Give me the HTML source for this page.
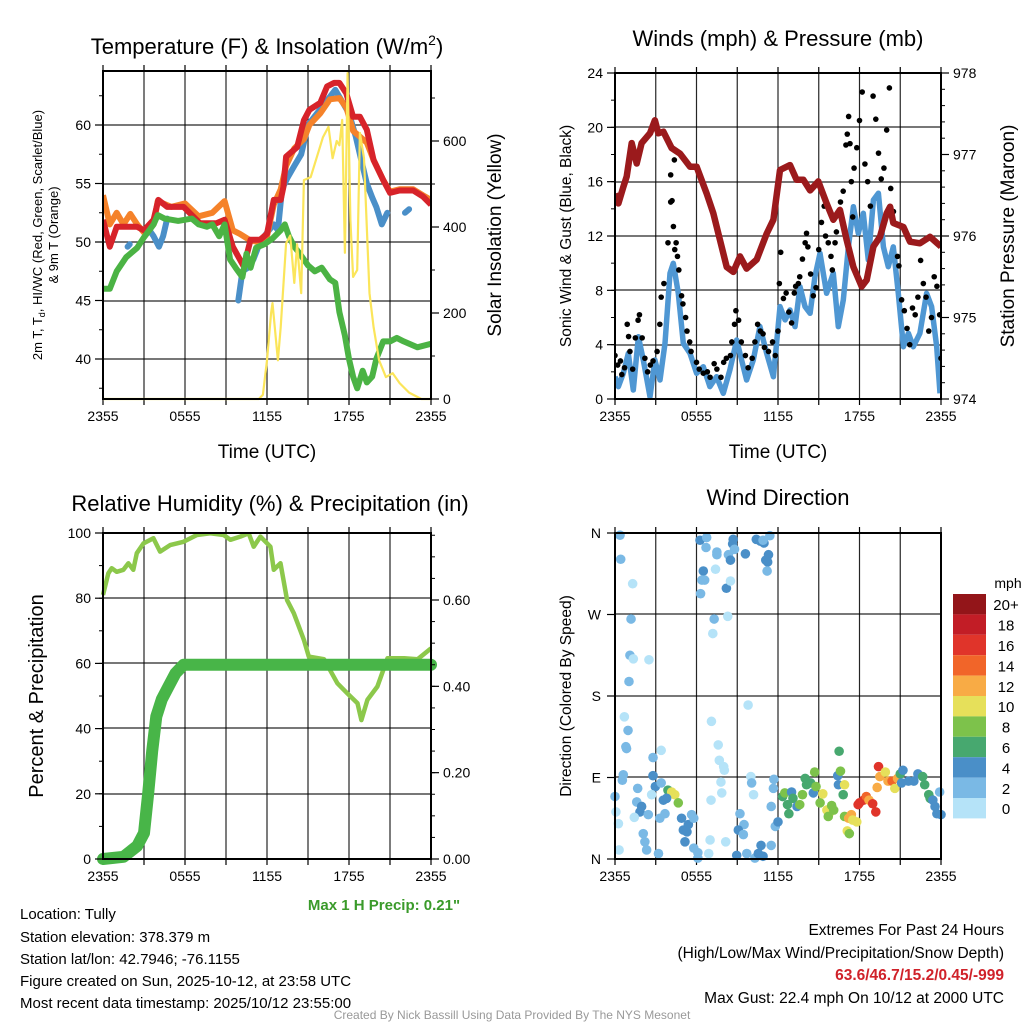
<!DOCTYPE html>
<html><head><meta charset="utf-8">
<style>
html,body{margin:0;padding:0;background:#fff;}
svg{display:block;font-family:"Liberation Sans",Arial,sans-serif;}
</style></head>
<body>
<svg id="c" width="1024" height="1024" viewBox="0 0 1024 1024" xmlns="http://www.w3.org/2000/svg">
<g id="static">
<text x="267" y="54" font-size="22" text-anchor="middle">Temperature (F) &amp; Insolation (W/m<tspan dy="-9" font-size="14">2</tspan><tspan dy="9">)</tspan></text>
<text x="778" y="46" font-size="22" text-anchor="middle">Winds (mph) &amp; Pressure (mb)</text>
<text x="270" y="511" font-size="22" text-anchor="middle">Relative Humidity (%) &amp; Precipitation (in)</text>
<text x="778" y="505" font-size="22" text-anchor="middle">Wind Direction</text>
<text x="267" y="458" font-size="19" text-anchor="middle">Time (UTC)</text>
<text x="778" y="458" font-size="19" text-anchor="middle">Time (UTC)</text>
<text transform="translate(42,235) rotate(-90)" font-size="13" text-anchor="middle">2m T, T<tspan font-size="9" dy="3">d</tspan><tspan dy="-3">, HI/WC (Red, Green, Scarlet/Blue)</tspan></text>
<text transform="translate(58,235) rotate(-90)" font-size="13" text-anchor="middle">&amp; 9m T (Orange)</text>
<text transform="translate(501,235) rotate(-90)" font-size="19" text-anchor="middle">Solar Insolation (Yellow)</text>
<text transform="translate(571,236) rotate(-90)" font-size="15.5" text-anchor="middle">Sonic Wind &amp; Gust (Blue, Black)</text>
<text transform="translate(1014,236) rotate(-90)" font-size="19" text-anchor="middle">Station Pressure (Maroon)</text>
<text transform="translate(43,696) rotate(-90)" font-size="20" text-anchor="middle">Percent &amp; Precipitation</text>
<text transform="translate(571,696) rotate(-90)" font-size="15.5" text-anchor="middle">Direction (Colored By Speed)</text>
<text x="384" y="910" font-size="15" font-weight="bold" fill="#3a9a2a" text-anchor="middle">Max 1 H Precip: 0.21"</text>
<g font-size="15">
<text x="20" y="919">Location: Tully</text>
<text x="20" y="942">Station elevation: 378.379 m</text>
<text x="20" y="964">Station lat/lon: 42.7946; -76.1155</text>
<text x="20" y="986">Figure created on Sun, 2025-10-12, at 23:58 UTC</text>
<text x="20" y="1008">Most recent data timestamp: 2025/10/12 23:55:00</text>
</g>
<g font-size="15.5" text-anchor="end">
<text x="1004" y="935">Extremes For Past 24 Hours</text>
<text x="1004" y="958">(High/Low/Max Wind/Precipitation/Snow Depth)</text>
<text x="1004" y="980" fill="#d0222a" font-weight="bold">63.6/46.7/15.2/0.45/-999</text>
<text x="1004" y="1003">Max Gust: 22.4 mph On 10/12 at 2000 UTC</text>
</g>
<text x="512" y="1019" font-size="12" fill="#999" text-anchor="middle">Created By Nick Bassill Using Data Provided By The NYS Mesonet</text>
</g>
</svg>
<script>
// ---------- Panel 1 data (hours since 2355) ----------
const redH=[0,0.5,1,1.7,2.5,3,3.7,4.05,4.7,5.9,7.1,8.3,8.9,9.5,10.3,10.8,11.5,12,12.5,13,13.2,13.4,14.2,14.7,15.1,15.9,16.4,16.9,17.3,17.8,18.3,18.8,19.3,19.8,20.5,21,21.7,22.7,23.4,24];
const redT=[51.9,49.6,51.3,51.3,51.3,51.0,51.9,53.6,53.0,53.0,51.6,51.6,51.9,49.6,47.9,50.2,50.2,50.7,53.6,53.6,54.7,57.3,58.1,60.4,61.3,61.9,63.3,63.6,63.6,62.7,60.7,60.7,59.6,57.0,55.3,54.2,54.4,54.4,53.9,53.2];
const orgH=[0,0.5,1,1.5,2,2.5,3,3.7,4,5,6,7,8,8.9,9.5,10,10.7,11.3,12,12.5,13,13.4,14,14.7,15.1,15.9,16.6,17.3,17.8,18.3,18.8,19.3,19.8,20.5,21,21.7,22.7,23.4,24];
const orgT=[54,51.5,52.5,51.5,52.4,51.5,50.8,51.5,53.5,53,53.3,52.2,52.5,53.5,51,50.7,50.2,50.0,50.5,53.2,54.5,56.5,58,58.8,60,61,62.2,62.3,61.5,59.5,59,58.5,57,55.3,54.3,54.5,54.5,54,53.6];
const bluH=[1.8,1.95,null,3.4,3.7,4.1,4.4,4.7,null,9.9,10.2,10.6,11,11.5,12,12.5,12.8,13.1,13.5,14,14.5,15,16,17,18,18.5,18.8,19.3,19.7,20,20.4,20.8,null,22.1,22.4];
const bluT=[49.6,49.8,null,51,50.5,49.6,50.5,52,null,45,47.5,47.8,48.5,50,50.8,51.5,51,54.5,55.5,56.5,57.5,60,61.5,63,61,59,57.5,55,53.8,53,51.5,52.5,null,52.5,52.8];
const grnH=[0,0.5,1,1.7,2.5,3,3.7,4,4.5,5.5,6.5,7,7.6,8,8.5,8.9,9.3,9.7,10.2,10.5,10.8,11.2,11.8,12.4,13,13.3,13.6,14,14.4,15,15.5,16,16.6,17,17.3,17.7,18,18.3,18.6,19,19.3,19.7,20,20.5,21,21.5,22,23,24];
const grnT=[46,46,47.5,48.7,49.5,50.4,51.5,52.3,52,51.8,52,51.5,51.3,51.5,50.5,51.5,48.5,47.8,47,49,47.8,49.5,49.8,50.3,51,51.5,50.5,49.6,49,48,47.5,47.8,46.8,46.5,44,42,40,38.5,37.5,39,38,38.5,40,41.5,41.5,41.8,41.5,41,41.3];
const solH=[0,11.4,11.7,12,12.3,12.4,12.8,13,13.4,13.7,14,14.2,14.5,14.7,15.2,16.1,16.5,16.8,17.1,17.3,17.5,17.7,17.9,18.1,18.3,18.6,18.8,19.1,19.5,19.8,20.2,20.7,21.2,21.7,22.4,23.3,24];
const solW=[0,0,10,90,200,223,90,167,362,380,270,360,246,509,516,609,633,560,600,590,649,340,758,416,284,300,619,560,246,167,90,51,60,37,15,0,0];
const tempTicks=[40,45,50,55,60];
const solTicks=[0,200,400,600];
const timeLabels=["2355","0555","1155","1755","2355"];
// ---------- Panel 2 data ----------
const presH=[0,0.25,0.61,0.86,1.23,1.6,1.96,2.58,2.94,3.19,3.56,4.17,4.79,5.52,6.01,6.75,7.24,7.73,8.22,8.71,9.2,9.69,10.43,11.17,11.66,12.15,12.88,13.37,13.87,14.36,14.97,15.58,16.07,16.56,17.06,17.55,18.16,18.53,19.02,19.51,20,20.25,20.49,21.23,21.72,22.45,23.19,24];
const presMb=[976.52,976.40,976.60,976.73,977.14,976.89,977.14,977.26,977.42,977.26,977.28,977.08,977.01,976.85,976.85,976.52,976.28,975.95,975.62,975.56,975.75,975.60,975.71,976.03,976.20,976.81,976.87,976.69,976.69,976.56,976.67,976.40,976.20,976.32,975.95,975.62,975.38,975.46,975.87,975.99,976.28,976.36,976.16,976.11,975.93,975.91,975.99,975.87];
const sonH=[0,0.25,0.61,0.98,1.35,1.72,2.08,2.58,2.94,3.31,3.68,4.05,4.29,4.66,5.03,5.52,6.01,6.5,6.99,7.48,7.97,8.46,8.96,9.32,9.69,10.18,10.67,11.17,11.66,12.15,12.52,12.88,13.25,13.62,13.99,14.36,14.72,15.09,15.58,16.07,16.44,16.81,17.18,17.55,17.91,18.28,18.65,19.02,19.39,19.76,20.12,20.49,20.86,21.23,21.6,21.96,22.45,22.94,23.31,23.68,23.93];
const sonV=[1.64,0.91,1.89,3.36,0.66,4.59,2.87,0.17,2.87,1.4,4.1,9.26,9.99,7.78,4.1,3.36,1.89,2.38,0.91,1.64,0.42,2.14,4.34,2.87,1.4,2.87,5.33,3.36,1.64,6.8,5.82,6.55,5.33,8.27,6.8,6.31,9.0,10.73,7.78,9.26,5.33,7.29,11.2,14.16,12.2,13.67,10.24,14.65,15.15,11.2,9.74,11.2,7.78,3.85,4.84,3.85,4.84,7.78,6.8,3.85,0.42];
const gustH=[0,0.2,0.4,0.5,0.7,0.9,1.0,1.1,1.3,1.5,1.7,1.8,2.0,2.2,2.4,2.6,2.8,3.1,3.3,3.4,3.6,3.9,4.1,4.2,4.3,4.4,4.5,4.6,4.7,4.1,4.37,4.9,5.0,5.2,5.3,5.5,5.6,6.0,6.2,6.5,6.8,7.0,7.3,7.5,7.8,8.0,8.2,8.5,8.6,8.8,8.9,9.1,9.3,9.6,9.8,10.1,10.3,10.5,10.7,10.9,11.0,11.3,11.6,11.8,12.0,12.1,12.2,12.4,12.6,12.8,13.0,13.2,13.3,13.5,13.6,13.8,14.0,14.1,14.2,14.4,14.6,14.8,15.0,15.2,15.4,15.5,15.7,15.9,16.0,16.2,16.3,16.5,16.6,16.8,17.0,17.1,17.2,17.3,17.4,17.5,17.6,17.8,18.0,18.2,18.4,18.6,18.8,19.0,19.2,19.4,19.6,19.8,20.0,20.2,20.3,20.5,20.8,20.9,21.1,21.3,21.5,21.7,21.9,22.1,22.3,22.5,22.7,22.9,23.1,23.3,23.5,23.7,23.9,24.0];
const gustV=[3.2,2.5,2.8,1.8,2.3,5.5,4.6,3.5,2.2,4.5,5.8,6.2,4.5,3.0,2.0,2.5,2.8,3.5,5.5,7.5,8.5,11.5,14.5,14.6,12.7,11,11.5,10.5,9.5,16.5,17.6,7.6,7.0,6.0,5.0,4.2,3.5,2.7,2.2,1.9,2.0,1.6,2.6,2.2,1.6,2.7,3.0,3.2,4.2,5.5,6.5,5.8,4.2,3.2,2.3,3.0,4.2,5.5,5.0,4.8,3.8,3.5,4.2,3.2,5.0,8.5,10.8,7.4,7.8,6.4,5.6,7.8,8.3,8.5,9.0,10.3,11.5,12.2,11.2,9.2,7.6,8.2,11.0,13.0,14.2,12.0,11.5,10.5,9.5,11.5,12.3,13.8,14.5,15.3,18.7,19.5,20.8,18.8,16.0,13.4,17.0,18.5,20.5,22.6,17.3,16.0,14.2,22.3,20.6,18.1,16.2,17.0,19.8,22.9,15.5,13.8,10.5,9.8,7.3,6.5,5.2,4.0,6.7,6.2,7.5,10.2,8.5,7.5,5.0,6.0,9.0,8.3,6.2,3.0];
const windTicks=[0,4,8,12,16,20,24];
const presTicks=[974,975,976,977,978];
// ---------- Panel 3 data ----------
const rhH=[0,0.39,0.64,1.0,1.49,1.86,2.22,2.47,2.96,3.69,4.18,4.91,5.89,6.87,7.85,8.83,9.32,10.05,10.66,11.03,11.52,12.25,12.5,12.99,13.47,13.96,14.7,15.06,16.17,17.15,17.88,18.62,18.91,19.35,20.08,20.82,22.04,23.02,24];
const rhPct=[81,87.6,89.2,88.1,88.7,90.7,88.7,93.8,96.8,98.4,94.3,96.3,97.3,99.4,99.9,99.4,97.9,98.9,99.9,95.8,98.9,95.8,88.7,90.7,79.4,75.4,67.2,62.1,61.3,53.9,50.8,47.8,42.6,48.8,52.9,61.6,61.6,61.3,64.6];
const prH=[0,1.5,2.5,3.0,3.3,3.6,3.9,4.3,4.8,5.3,5.9,24];
const prIn=[0,0.005,0.03,0.06,0.15,0.25,0.33,0.37,0.40,0.43,0.45,0.45];
const rhTicks=[0,20,40,60,80,100];
const prTicks=[0,0.2,0.4,0.6];
// ---------- Panel 4 data ----------
const dirH=[0.37,0.42,1.3,1.18,1.1,1.35,2.5,1.03,0.69,0.96,0.8,0.85,0.61,0.54,0,0.07,0.25,0.3,2.8,2.8,2.97,3.4,3.4,2.7,1.67,1.6,1.96,1.84,1.42,2.08,2.2,2.33,2.45,3.3,3.2,3.68,3.56,3.9,4.17,4.4,4.66,3.8,4.9,5.03,5.3,5.15,5.4,5.64,5.8,5.8,6.1,6.1,6.9,7,7.07,7.8,7.86,8.15,7.6,7.68,8,8.05,7.1,9.8,10,10.06,10.2,9.2,9.5,9.08,9.45,8.96,9.7,10.3,10.55,10.75,10.9,11.5,11.66,11.7,11.5,11.8,12,12.34,12.5,12.7,12.8,13,13.1,13.4,13.6,13.8,14,14.1,14.4,14.6,14.7,14.8,15.1,15.3,15.6,15.75,15.7,15.95,16.1,16.4,16.45,16.5,16.6,16.8,16.9,16.9,17.2,17.4,17.5,17.1,17.25,17.8,17.9,18,18.3,18.5,18.7,18.97,19.2,19.3,19.4,19.5,19.9,20.1,20.4,20.6,20.8,21,21.1,21.2,21.6,22,22.3,22.65,22.8,23.1,23.2,23.4,23.56,23.7,23.9,24,6.26,6.75,6.7,6.5,6.4,6.6,6.3,7.5,7.5,7.4,7.3,7.2,8.3,8.2,8.5,8.35,8.5,8.66,8.7,8.8,9.6,10.4,10.7,10.97,10.9,11.4,11.3,11.24,11.2,11.1];
const dirDeg=[357.6,331,304,265,225,221,220,196,157,142,124,122,93,87,69,52,39,10,112,92,80,120,84,71,78,63,58,52,46,28,19,10,49,45,6,50,65,76,74,71,62,67,45,32,30,19,38,49,45,12,1,7,6,21,65,85,73,19,126,109,102,98,152,170,91,84,71,50,38,32,27,4,6,1,6,15,3,15,78,88,58,36,41,69,73,60,50,74,67,58,60,71,89,82,84,73,96,80,62,72,54,50,47,59,54,92,82,119,97,71,82,47,45,49,43,31,28,41,60,62,65,69,65,61,52,79,102,91,96,86,86,78,89,94,84,98,86,86,94,91,82,71,67,65,58,50,74,49,352,355,344,318,308,308,293,339,336,320,265,249,268,299,307,336,330,348,353,342,337,353,351,349,352,357,336,328,318,330];
const dirSpd=[2,2,0,1,2,0,0,2,0,2,1,2,2,2,2,0,0,0,2,3,3,0,2,0,2,1,4,4,0,2,2,2,2,2,2,2,4,6,10,9,7,4,4,4,4,4,4,2,2,1,2,1,0,0,0,0,0,0,0,0,0,0,0,0,0,2,0,2,2,4,2,4,2,2,4,4,4,2,2,2,2,2,4,6,7,6,6,4,6,4,7,7,6,6,6,4,7,7,7,9,10,9,7,7,8,4,4,6,7,6,9,8,11,12,10,10,8,10,16,16,15,13,12,16,15,12,16,11,10,11,13,10,12,6,4,4,4,4,4,6,6,6,6,4,4,4,2,4,4,2,2,3,2,2,2,1,2,0,1,0,0,3,0,2,3,4,4,2,4,4,4,4,1,2,4,4,2];
const speedBins=["0","2","4","6","8","10","12","14","16","18","20+"];
const dirLabels=["N","E","S","W","N"];
const binColors=["#b5e3f8","#7ab9e5","#4a8fc8","#47a86f","#7dc24b","#e6e05a","#f8ab45","#f16529","#e0342a","#c21d26","#931519"];

const NS="http://www.w3.org/2000/svg";
const svg=document.getElementById('c');
function mk(tag,attrs,parent){const e=document.createElementNS(NS,tag);for(const k in attrs)e.setAttribute(k,attrs[k]);(parent||svg).appendChild(e);return e;}
function lin(d0,d1,r0,r1){return v=>r0+(v-d0)*(r1-r0)/(d1-d0);}
function pathFrom(hs,vs,xs,ys){let d="",pen=false;for(let i=0;i<hs.length;i++){if(hs[i]===null||vs[i]===null){pen=false;continue;}d+=(pen?"L":"M")+xs(hs[i]).toFixed(1)+","+ys(vs[i]).toFixed(1);pen=true;}return d;}

function frame(x0,x1,y0,y1,name,hGrid){
  const g=mk('g',{});
  
  
  const xs=lin(0,24,x0,x1);
  for(let h=3;h<24;h+=3){mk('line',{x1:xs(h),x2:xs(h),y1:y0,y2:y1,stroke:'#000','stroke-width':1.2,opacity:0.85},g);}
  hGrid.forEach(y=>mk('line',{x1:x0,x2:x1,y1:y,y2:y,stroke:'#000','stroke-width':1.2,opacity:0.85},g));
  for(let h=0;h<=24;h+=3){mk('line',{x1:xs(h),x2:xs(h),y1:y1,y2:y1+6,stroke:'#000','stroke-width':1.2},g);mk('line',{x1:xs(h),x2:xs(h),y1:y0,y2:y0-6,stroke:'#000','stroke-width':1.2},g);}
  const lab=mk('g',{'font-size':14,'text-anchor':'middle'});
  
  
  timeLabels.forEach((t,i)=>{const tx=mk('text',{x:xs(i*6),y:y1+22},lab);tx.textContent=t;});
  return xs;
}
function border(x0,x1,y0,y1,name){const r=mk('rect',{x:x0,y:y0,width:x1-x0,height:y1-y0,fill:'none',stroke:'#000','stroke-width':2});}
function yAxis(x,ys,ticks,fmt,side,name,minorStep,dmin,dmax){
  const g=mk('g',{'font-size':14});
  
  
  const dir=side==='left'?-1:1;
  if(minorStep){for(let v=Math.ceil(dmin/minorStep)*minorStep;v<=dmax+1e-9;v+=minorStep){mk('line',{x1:x,x2:x+dir*4,y1:ys(v),y2:ys(v),stroke:'#000','stroke-width':1},g);}}
  ticks.forEach(v=>{mk('line',{x1:x,x2:x+dir*8,y1:ys(v),y2:ys(v),stroke:'#000','stroke-width':1.2},g);
    const t=mk('text',{x:x+dir*12,y:ys(v)+5,'text-anchor':side==='left'?'end':'start'},g);t.textContent=fmt(v);});
}

// ===== Panel 1 =====
(function(){
  const x0=103,x1=431,y0=71,y1=399;
  const yT=lin(40,60,359,125), yS=lin(0,600,399,141);
  const xs=frame(x0,x1,y0,y1,'temp',[125,184,242,301,359]);
  const cl=mk('clipPath',{id:'cp1'});mk('rect',{x:x0,y:y0-5,width:x1-x0,height:y1-y0+8},cl);
  const g=mk('g',{'clip-path':'url(#cp1)'});
  let p;
  p=mk('path',{d:pathFrom(bluH,bluT,xs,yT),fill:'none',stroke:'#4a8fc8','stroke-width':6,'stroke-linejoin':'round','stroke-linecap':'round'},g);
  
  p=mk('path',{d:pathFrom(orgH,orgT,xs,yT),fill:'none',stroke:'#f5822a','stroke-width':6,'stroke-linejoin':'round'},g);
  
  p=mk('path',{d:pathFrom(redH,redT,xs,yT),fill:'none',stroke:'#d7232a','stroke-width':6,'stroke-linejoin':'round'},g);
  
  p=mk('path',{d:pathFrom(grnH,grnT,xs,yT),fill:'none',stroke:'#4bb344','stroke-width':6,'stroke-linejoin':'round'},g);
  
  p=mk('path',{d:pathFrom(solH,solW,xs,yS),fill:'none',stroke:'#fbe55a','stroke-width':2.2,'stroke-linejoin':'round'},g);
  
  border(x0,x1,y0,y1,'temp');
  yAxis(x0,yT,tempTicks,v=>v,'left','temp-y-axis',2.5,37,64);
  yAxis(x1,yS,solTicks,v=>v,'right','solar-y-axis',100,0,760);
})();

// ===== Panel 2 =====
(function(){
  const x0=615,x1=941,y0=73,y1=399;
  const yW=lin(0,24,399,73), yP=lin(974,978,399,73);
  const xs=frame(x0,x1,y0,y1,'wind',[127,182,236,290,345]);
  const cl=mk('clipPath',{id:'cp2'});mk('rect',{x:x0,y:y0,width:x1-x0,height:y1-y0},cl);
  const g=mk('g',{'clip-path':'url(#cp2)'});
  let p=mk('path',{d:pathFrom(sonH,sonV,xs,yW),fill:'none',stroke:'#4f97d3','stroke-width':5.5,'stroke-linejoin':'round'},g);
  
  const gd=mk('g',{},g);
  
  gustH.forEach((h,i)=>{const c=mk('circle',{cx:xs(h),cy:yW(gustV[i]),r:2.8,fill:'#000'},gd);
    
    });
  p=mk('path',{d:pathFrom(presH,presMb,xs,yP),fill:'none',stroke:'#9b1a1c','stroke-width':6.5,'stroke-linejoin':'round'},g);
  
  border(x0,x1,y0,y1,'wind');
  yAxis(x0,yW,windTicks,v=>v,'left','wind-y-axis',2,0,24);
  yAxis(x1,yP,presTicks,v=>v,'right','pressure-y-axis',0.2,974,978);
})();

// ===== Panel 3 =====
(function(){
  const x0=103,x1=431,y0=533,y1=859;
  const yR=lin(0,100,859,533), yPr=lin(0,0.6,859,600);
  const xs=frame(x0,x1,y0,y1,'rh',[598,663,728,794]);
  const cl=mk('clipPath',{id:'cp3'});mk('rect',{x:x0-8,y:y0,width:x1-x0+16,height:y1-y0+8},cl);
  const g=mk('g',{'clip-path':'url(#cp3)'});
  let p=mk('path',{d:pathFrom(rhH,rhPct,xs,yR),fill:'none',stroke:'#8cc84b','stroke-width':4.5,'stroke-linejoin':'round'},g);
  
  p=mk('path',{d:pathFrom(prH,prIn,xs,yPr),fill:'none',stroke:'#48b548','stroke-width':12,'stroke-linejoin':'round','stroke-linecap':'round'},g);
  
  border(x0,x1,y0,y1,'rh');
  yAxis(x0,yR,rhTicks,v=>v,'left','rh-y-axis',10,0,100);
  yAxis(x1,yPr,prTicks,v=>v.toFixed(2),'right','precip-y-axis',0.05,0,0.75);
})();

// ===== Panel 4 =====
(function(){
  const x0=615,x1=941,y0=533,y1=859;
  const yD=lin(0,360,859,533);
  const xs=frame(x0,x1,y0,y1,'direction',[614,696,777]);
  const g=mk('g',{});
  
  dirH.forEach((h,i)=>{const s=(dirSpd[i]===undefined)?3:dirSpd[i];const b=Math.min(10,Math.floor((s+1)/2));
    const c=mk('circle',{cx:xs(h),cy:yD(dirDeg[i]),r:4.8,fill:binColors[b]},g);
    
    });
  border(x0,x1,y0,y1,'direction');
  const ga=mk('g',{'font-size':14});
  
  dirLabels.forEach((l,i)=>{const y=yD(i*90);mk('line',{x1:x0,x2:x0-8,y1:y,y2:y,stroke:'#000','stroke-width':1.2},ga);
    const t=mk('text',{x:x0-14,y:y+5,'text-anchor':'end'},ga);t.textContent=l;});
  const cb=mk('g',{});
  
  const t0=mk('text',{x:1008,y:588,'font-size':14,'text-anchor':'middle'},cb);t0.textContent='mph';
  const top=594,bh=20.4;
  for(let i=10;i>=0;i--){const y=top+(10-i)*bh;
    const r=mk('rect',{x:953,y:y,width:33,height:bh,fill:binColors[i]},cb);
    
    
    const t=mk('text',{x:1006,y:y+bh/2+6,'font-size':15,'text-anchor':'middle'},cb);t.textContent=speedBins[i];}
})();
</script>
</body></html>
